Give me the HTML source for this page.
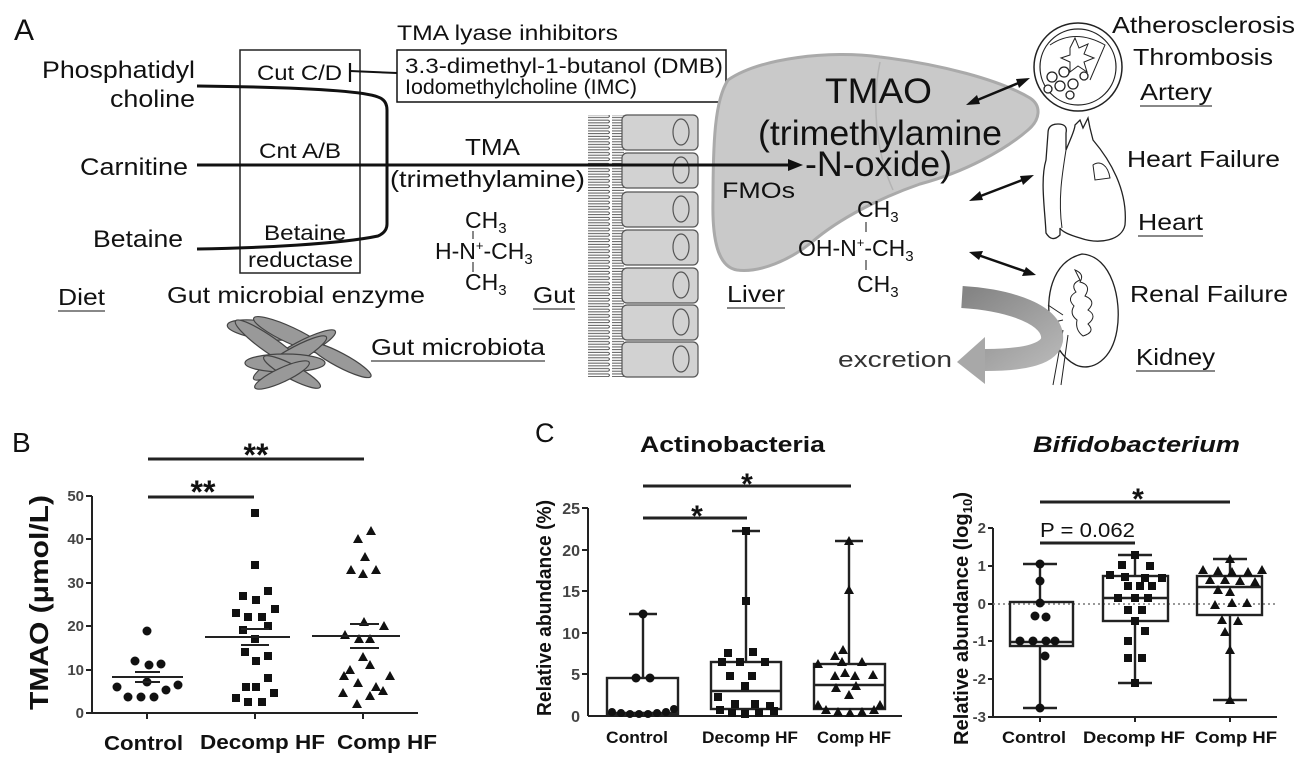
<!DOCTYPE html>
<html><head><meta charset="utf-8"><style>
html,body{margin:0;padding:0;background:#fff;}
svg{display:block;font-family:"Liberation Sans",Arial,sans-serif;}
</style></head><body>
<svg width="1310" height="764" viewBox="0 0 1310 764" xmlns="http://www.w3.org/2000/svg">
<defs>
<pattern id="villi" x="0" y="0" width="34" height="5.4" patternUnits="userSpaceOnUse">
<path d="M0 1.3 H30 Q33 2.7 30 4.1 H0" fill="none" stroke="#555" stroke-width="1"/>
</pattern>
<linearGradient id="exg" x1="0" y1="0" x2="1" y2="1"><stop offset="0" stop-color="#858585"/><stop offset="1" stop-color="#b5b5b5"/></linearGradient>
</defs>
<!-- PANEL A -->
<text x="14" y="40" font-size="30" fill="#111">A</text>
<g font-size="24" fill="#111" lengthAdjust="spacingAndGlyphs">
<text x="42" y="78" textLength="153" lengthAdjust="spacingAndGlyphs">Phosphatidyl</text>
<text x="110" y="107" textLength="85" lengthAdjust="spacingAndGlyphs">choline</text>
<text x="80" y="175" textLength="108" lengthAdjust="spacingAndGlyphs">Carnitine</text>
<text x="93" y="247" textLength="90" lengthAdjust="spacingAndGlyphs">Betaine</text>
</g>
<rect x="240" y="50" width="120" height="223" fill="none" stroke="#222" stroke-width="1.5"/>
<g font-size="21" fill="#111">
<text x="257" y="80" textLength="85" lengthAdjust="spacingAndGlyphs">Cut C/D</text>
<text x="259" y="158" textLength="82" lengthAdjust="spacingAndGlyphs">Cnt A/B</text>
<text x="264" y="240" textLength="82" lengthAdjust="spacingAndGlyphs">Betaine</text>
<text x="248" y="267" textLength="105" lengthAdjust="spacingAndGlyphs">reductase</text>
</g>
<path d="M197 86 C 280 87, 360 90, 378 97 Q 387 100 387 110 L 387 224 Q 387 232 378 236 C 340 244, 260 248, 197 249" fill="none" stroke="#111" stroke-width="3"/>
<line x1="350" y1="63" x2="350" y2="82" stroke="#111" stroke-width="2.2"/>
<line x1="350" y1="71" x2="397" y2="73" stroke="#111" stroke-width="2"/>
<rect x="397" y="50" width="329" height="52" fill="#fff" stroke="#111" stroke-width="1.5"/>
<text x="397" y="40" font-size="21" fill="#111" textLength="221" lengthAdjust="spacingAndGlyphs">TMA lyase inhibitors</text>
<text x="405" y="73" font-size="21" fill="#111" textLength="318" lengthAdjust="spacingAndGlyphs">3.3-dimethyl-1-butanol (DMB)</text>
<text x="405" y="94" font-size="21" fill="#111" textLength="232" lengthAdjust="spacingAndGlyphs">Iodomethylcholine (IMC)</text>
<text x="465" y="155" font-size="23" fill="#111" textLength="55" lengthAdjust="spacingAndGlyphs">TMA</text>
<text x="390" y="187" font-size="23" fill="#111" textLength="195" lengthAdjust="spacingAndGlyphs">(trimethylamine)</text>
<g font-size="23" fill="#111">
<text x="465" y="228">CH<tspan font-size="15" dy="5">3</tspan></text>
<text x="435" y="259">H-N<tspan font-size="13" dy="-9">+</tspan><tspan dy="9">-CH</tspan><tspan font-size="15" dy="5">3</tspan></text>
<text x="465" y="290">CH<tspan font-size="15" dy="5">3</tspan></text>
<line x1="473" y1="231" x2="473" y2="239" stroke="#111"/>
<line x1="473" y1="262" x2="473" y2="272" stroke="#111"/>
</g>
<g font-size="23" fill="#111">
<text x="58" y="305" textLength="47" lengthAdjust="spacingAndGlyphs">Diet</text><line x1="58" y1="311" x2="105" y2="311" stroke="#111"/>
<text x="167" y="303" textLength="258" lengthAdjust="spacingAndGlyphs">Gut microbial enzyme</text>
<text x="533" y="303" textLength="42" lengthAdjust="spacingAndGlyphs">Gut</text><line x1="533" y1="309" x2="575" y2="309" stroke="#111"/>
<text x="371" y="355" textLength="174" lengthAdjust="spacingAndGlyphs">Gut microbiota</text><line x1="371" y1="361" x2="545" y2="361" stroke="#111"/>
</g>
<!-- microbiota -->
<g fill="#999" stroke="#444" stroke-width="1.2">
<ellipse cx="262" cy="330" rx="35" ry="9" transform="rotate(8 262 330)"/>
<ellipse cx="290" cy="335" rx="40" ry="8" transform="rotate(25 290 335)"/>
<ellipse cx="300" cy="350" rx="40" ry="8" transform="rotate(-28 300 350)"/>
<ellipse cx="270" cy="345" rx="42" ry="8" transform="rotate(35 270 345)"/>
<ellipse cx="340" cy="360" rx="35" ry="7" transform="rotate(28 340 360)"/>
<ellipse cx="290" cy="358" rx="42" ry="8" transform="rotate(-30 290 358)"/>
<ellipse cx="285" cy="363" rx="40" ry="9"/>
<ellipse cx="292" cy="372" rx="32" ry="7" transform="rotate(28 292 372)"/>
<ellipse cx="282" cy="375" rx="30" ry="7" transform="rotate(-25 282 375)"/>
</g>
<!-- gut cells -->
<rect x="588" y="115" width="36" height="262" fill="url(#villi)"/>
<g fill="#d2d2d2" stroke="#555" stroke-width="1.2">
<rect x="622" y="115" width="76" height="35" rx="5"/>
<rect x="622" y="153" width="76" height="35" rx="5"/>
<rect x="622" y="192" width="76" height="35" rx="5"/>
<rect x="622" y="230" width="76" height="35" rx="5"/>
<rect x="622" y="268" width="76" height="35" rx="5"/>
<rect x="622" y="305" width="76" height="35" rx="5"/>
<rect x="622" y="342" width="76" height="35" rx="5"/>
</g>
<g fill="none" stroke="#555" stroke-width="1.2">
<ellipse cx="681" cy="132" rx="8" ry="13"/><ellipse cx="681" cy="170" rx="8" ry="13"/>
<ellipse cx="681" cy="209" rx="8" ry="13"/><ellipse cx="681" cy="247" rx="8" ry="13"/>
<ellipse cx="681" cy="285" rx="8" ry="13"/><ellipse cx="681" cy="322" rx="8" ry="13"/>
<ellipse cx="681" cy="359" rx="8" ry="13"/>
</g>
<!-- liver -->
<path d="M728 80 C 760 58, 830 50, 880 57 C 940 64, 1000 80, 1030 98 C 1042 106, 1040 120, 1028 130 C 1005 150, 965 172, 920 184 C 880 198, 840 218, 812 242 C 790 260, 760 273, 737 270 C 718 267, 712 240, 713 200 C 713 140, 715 100, 728 80 Z" fill="#c9c9c9" stroke="#aaa" stroke-width="3"/>
<path d="M880 62 C 872 100, 875 150, 893 190" fill="none" stroke="#b3b3b3" stroke-width="1.5"/>
<line x1="197" y1="165" x2="790" y2="165" stroke="#111" stroke-width="3"/>
<polygon points="803,165 788,159 788,171" fill="#111"/>
<g fill="#111">
<text x="825" y="103" font-size="35" textLength="107" lengthAdjust="spacingAndGlyphs">TMAO</text>
<text x="758" y="145" font-size="35" textLength="244" lengthAdjust="spacingAndGlyphs">(trimethylamine</text>
<text x="805" y="176" font-size="35" textLength="147" lengthAdjust="spacingAndGlyphs">-N-oxide)</text>
</g>
<text x="722" y="198" font-size="22" fill="#111" textLength="73" lengthAdjust="spacingAndGlyphs">FMOs</text>
<text x="727" y="302" font-size="23" fill="#111" textLength="58" lengthAdjust="spacingAndGlyphs">Liver</text><line x1="727" y1="308" x2="785" y2="308" stroke="#111"/>
<g font-size="23" fill="#111">
<text x="857" y="217">CH<tspan font-size="15" dy="5">3</tspan></text>
<text x="798" y="256">OH-N<tspan font-size="13" dy="-9">+</tspan><tspan dy="9">-CH</tspan><tspan font-size="15" dy="5">3</tspan></text>
<text x="857" y="292">CH<tspan font-size="15" dy="5">3</tspan></text>
<line x1="866" y1="222" x2="866" y2="232" stroke="#111"/>
<line x1="866" y1="260" x2="866" y2="270" stroke="#111"/>
</g>
<!-- double arrows -->
<g stroke="#111" stroke-width="2.5">
<line x1="975" y1="101" x2="1021" y2="82"/>
<line x1="978" y1="197" x2="1025" y2="179"/>
<line x1="978" y1="255" x2="1027" y2="272"/>
</g>
<g fill="#111">
<polygon points="966,105 977,95 980,104"/><polygon points="1030,78 1019,88 1016,79"/>
<polygon points="969,201 980,191 983,200"/><polygon points="1034,175 1023,185 1020,176"/>
<polygon points="969,252 983,251 979,260"/><polygon points="1036,275 1022,276 1026,267"/>
</g>
<!-- artery -->
<ellipse cx="1078" cy="67" rx="44" ry="44" fill="#fff" stroke="#222" stroke-width="1.5"/>
<ellipse cx="1078" cy="67" rx="38" ry="38" fill="none" stroke="#222" stroke-width="1.2"/>
<path d="M1050 45 Q 1075 28 1105 45 L 1090 80" fill="none" stroke="#222"/>
<polygon points="1070,48 1075,38 1079,48 1088,44 1084,54 1094,58 1084,62 1087,72 1078,66 1070,72 1070,62 1061,58 1070,55" fill="#fff" stroke="#222"/>
<g fill="#fff" stroke="#222" stroke-width="1.3">
<circle cx="1052" cy="77" r="5"/><circle cx="1064" cy="72" r="5"/><circle cx="1060" cy="86" r="5"/><circle cx="1073" cy="84" r="5"/><circle cx="1084" cy="76" r="4"/><circle cx="1048" cy="89" r="4"/><circle cx="1070" cy="95" r="4"/>
</g>
<!-- heart -->
<path d="M1048 133 Q 1048 124 1058 124 Q 1068 124 1066 133 L 1066 150 C 1070 140, 1075 130, 1075 125 L 1080 120 L 1083 128 L 1088 118 L 1090 128 L 1093 140 C 1110 160, 1128 190, 1125 225 C 1122 240, 1100 245, 1080 238 C 1070 235, 1062 232, 1060 228 L 1060 235 Q 1052 243 1046 233 C 1045 210, 1040 180, 1046 160 Z" fill="#fff" stroke="#222" stroke-width="1.3"/>
<path d="M1066 150 C 1062 175, 1058 200, 1062 228" fill="none" stroke="#222"/>
<path d="M1093 165 C 1100 160, 1108 165, 1110 178 L 1095 180 Z" fill="none" stroke="#222"/>
<!-- kidney -->
<path d="M1082 254 C 1112 256, 1122 300, 1117 330 C 1112 360, 1092 372, 1076 365 C 1062 358, 1052 342, 1050 322 C 1046 300, 1050 262, 1082 254 Z" fill="#fff" stroke="#222" stroke-width="1.3"/>
<path d="M1075 270 q10 4 5 12 q12 3 5 14 q12 5 3 14 q10 6 0 14 q8 8 -5 12 q-8 -6 -6 -16 q-8 -6 -3 -14 q-8 -8 2 -14 q-6 -8 4 -12 z" fill="none" stroke="#222"/>
<path d="M1063 315 L 1048 305 M1063 320 L 1050 323 M1063 330 L 1053 385 M1068 335 L 1061 385" fill="none" stroke="#222"/>
<!-- excretion arrow -->
<path d="M962 297 C 1010 300, 1055 315, 1052 340 Q 1048 360, 985 360" fill="none" stroke="url(#exg)" stroke-width="22"/>
<polygon points="985,337 957,362 985,384" fill="#a8a8a8"/>
<text x="838" y="367" font-size="22" fill="#333" textLength="114" lengthAdjust="spacingAndGlyphs">excretion</text>
<g font-size="23" fill="#111">
<text x="1112" y="33" textLength="183" lengthAdjust="spacingAndGlyphs">Atherosclerosis</text>
<text x="1133" y="65" textLength="140" lengthAdjust="spacingAndGlyphs">Thrombosis</text>
<text x="1140" y="100" textLength="72" lengthAdjust="spacingAndGlyphs">Artery</text><line x1="1140" y1="106" x2="1212" y2="106" stroke="#111"/>
<text x="1127" y="167" textLength="153" lengthAdjust="spacingAndGlyphs">Heart Failure</text>
<text x="1138" y="230" textLength="65" lengthAdjust="spacingAndGlyphs">Heart</text><line x1="1138" y1="236" x2="1203" y2="236" stroke="#111"/>
<text x="1130" y="302" textLength="158" lengthAdjust="spacingAndGlyphs">Renal Failure</text>
<text x="1136" y="365" textLength="79" lengthAdjust="spacingAndGlyphs">Kidney</text><line x1="1136" y1="371" x2="1215" y2="371" stroke="#111"/>
</g>

<!-- PANEL B -->
<text x="12" y="452" font-size="28" fill="#111">B</text>
<g stroke="#222" stroke-width="2">
<line x1="92" y1="496" x2="92" y2="713"/><line x1="92" y1="713" x2="418" y2="713"/>
<line x1="86" y1="496" x2="92" y2="496"/><line x1="86" y1="539" x2="92" y2="539"/><line x1="86" y1="583" x2="92" y2="583"/><line x1="86" y1="626" x2="92" y2="626"/><line x1="86" y1="670" x2="92" y2="670"/><line x1="86" y1="713" x2="92" y2="713"/>
<line x1="147" y1="713" x2="147" y2="719"/><line x1="255" y1="713" x2="255" y2="719"/><line x1="363" y1="713" x2="363" y2="719"/>
<line x1="148" y1="497" x2="254" y2="497" stroke-width="3"/><line x1="148" y1="459" x2="364" y2="459" stroke-width="3"/>
</g>
<g font-size="15" font-weight="bold" fill="#444" text-anchor="end">
<text x="84" y="501">50</text><text x="84" y="544">40</text><text x="84" y="588">30</text><text x="84" y="631">20</text><text x="84" y="675">10</text><text x="84" y="718">0</text>
</g>
<text transform="translate(48 710) rotate(-90)" font-size="26" font-weight="bold" fill="#111" textLength="215" lengthAdjust="spacingAndGlyphs">TMAO (μmol/L)</text>
<g font-size="20" font-weight="bold" fill="#111">
<text x="104" y="750" textLength="79" lengthAdjust="spacingAndGlyphs">Control</text><text x="200" y="749" textLength="125" lengthAdjust="spacingAndGlyphs">Decomp HF</text><text x="337" y="749" textLength="100" lengthAdjust="spacingAndGlyphs">Comp HF</text>
</g>
<g font-size="32" font-weight="bold" fill="#111" text-anchor="middle">
<text x="203" y="503">**</text><text x="256" y="466">**</text>
</g>
<g fill="#111">
<circle cx="147" cy="631" r="4.5"/><circle cx="135" cy="661" r="4.5"/><circle cx="149" cy="665" r="4.5"/><circle cx="161" cy="664" r="4.5"/><circle cx="147" cy="682" r="4.5"/><circle cx="117" cy="687" r="4.5"/><circle cx="178" cy="685" r="4.5"/><circle cx="166" cy="690" r="4.5"/><circle cx="128" cy="697" r="4.5"/><circle cx="141" cy="697" r="4.5"/><circle cx="154" cy="697" r="4.5"/>
</g>
<g fill="#111">
<rect x="251" y="509" width="8" height="8"/><rect x="251" y="561" width="8" height="8"/><rect x="264" y="587" width="8" height="8"/><rect x="239" y="592" width="8" height="8"/><rect x="252" y="596" width="8" height="8"/><rect x="271" y="605" width="8" height="8"/><rect x="232" y="609" width="8" height="8"/><rect x="244" y="613" width="8" height="8"/><rect x="258" y="613" width="8" height="8"/><rect x="264" y="622" width="8" height="8"/><rect x="239" y="626" width="8" height="8"/><rect x="251" y="635" width="8" height="8"/><rect x="241" y="648" width="8" height="8"/><rect x="264" y="652" width="8" height="8"/><rect x="252" y="657" width="8" height="8"/><rect x="264" y="674" width="8" height="8"/><rect x="242" y="683" width="8" height="8"/><rect x="252" y="683" width="8" height="8"/><rect x="270" y="689" width="8" height="8"/><rect x="232" y="694" width="8" height="8"/><rect x="244" y="698" width="8" height="8"/><rect x="258" y="698" width="8" height="8"/>
</g>
<g fill="#111">
<path d="M371 526 l5 9 h-10z"/><path d="M358 534 l5 9 h-10z"/><path d="M365 552 l5 9 h-10z"/><path d="M351 565 l5 9 h-10z"/><path d="M376 565 l5 9 h-10z"/><path d="M363 569 l5 9 h-10z"/><path d="M364 617 l5 9 h-10z"/><path d="M384 621 l5 9 h-10z"/><path d="M345 630 l5 9 h-10z"/><path d="M359 634 l5 9 h-10z"/><path d="M370 634 l5 9 h-10z"/><path d="M363 652 l5 9 h-10z"/><path d="M370 660 l5 9 h-10z"/><path d="M350 665 l5 9 h-10z"/><path d="M344 671 l5 9 h-10z"/><path d="M390 671 l5 9 h-10z"/><path d="M358 678 l5 9 h-10z"/><path d="M376 682 l5 9 h-10z"/><path d="M383 686 l5 9 h-10z"/><path d="M343 688 l5 9 h-10z"/><path d="M370 691 l5 9 h-10z"/><path d="M357 699 l5 9 h-10z"/>
</g>
<g stroke="#222" stroke-width="2">
<line x1="112" y1="677" x2="183" y2="677"/><line x1="135" y1="672" x2="160" y2="672"/><line x1="135" y1="682" x2="160" y2="682"/>
<line x1="205" y1="637" x2="290" y2="637"/><line x1="241" y1="629" x2="269" y2="629"/><line x1="241" y1="645" x2="269" y2="645"/>
<line x1="312" y1="636" x2="400" y2="636"/><line x1="350" y1="624" x2="379" y2="624"/><line x1="350" y1="648" x2="379" y2="648"/>
</g>

<!-- PANEL C -->
<text x="535" y="442" font-size="27" fill="#111">C</text>
<text x="640" y="452" font-size="22" font-weight="bold" fill="#111" textLength="185" lengthAdjust="spacingAndGlyphs">Actinobacteria</text>
<text x="1033" y="452" font-size="22" font-weight="bold" font-style="italic" fill="#111" textLength="207" lengthAdjust="spacingAndGlyphs">Bifidobacterium</text>
<!-- left plot -->
<g stroke="#222" stroke-width="2">
<line x1="588" y1="508" x2="588" y2="716"/><line x1="588" y1="716" x2="902" y2="716"/>
<line x1="582" y1="508" x2="588" y2="508"/><line x1="582" y1="550" x2="588" y2="550"/><line x1="582" y1="591" x2="588" y2="591"/><line x1="582" y1="633" x2="588" y2="633"/><line x1="582" y1="674" x2="588" y2="674"/>
<line x1="643" y1="518" x2="747" y2="518" stroke-width="3"/><line x1="643" y1="486" x2="851" y2="486" stroke-width="3"/>
</g>
<g font-size="16" font-weight="bold" fill="#444" text-anchor="end">
<text x="580" y="514">25</text><text x="580" y="556">20</text><text x="580" y="597">15</text><text x="580" y="639">10</text><text x="580" y="680">5</text><text x="580" y="722">0</text>
</g>
<text transform="translate(551 716) rotate(-90)" font-size="20" font-weight="bold" fill="#111" textLength="216" lengthAdjust="spacingAndGlyphs">Relative abundance (%)</text>
<g font-size="17" font-weight="bold" fill="#111">
<text x="606" y="743" textLength="62" lengthAdjust="spacingAndGlyphs">Control</text><text x="702" y="743" textLength="96" lengthAdjust="spacingAndGlyphs">Decomp HF</text><text x="817" y="743" textLength="74" lengthAdjust="spacingAndGlyphs">Comp HF</text>
</g>
<g font-size="30" font-weight="bold" fill="#111" text-anchor="middle"><text x="697" y="526">*</text><text x="747" y="494">*</text></g>
<g fill="none" stroke="#222" stroke-width="2.4">
<rect x="607" y="678" width="71" height="37"/><line x1="643" y1="678" x2="643" y2="614"/><line x1="629" y1="614" x2="657" y2="614"/><line x1="607" y1="713" x2="678" y2="713"/>
<rect x="711" y="662" width="70" height="47"/><line x1="746" y1="662" x2="746" y2="531"/><line x1="732" y1="531" x2="760" y2="531"/><line x1="711" y1="691" x2="781" y2="691"/>
<rect x="814" y="664" width="71" height="45"/><line x1="849" y1="664" x2="849" y2="541"/><line x1="835" y1="541" x2="863" y2="541"/><line x1="814" y1="685" x2="885" y2="685"/>
</g>
<g fill="#111">
<circle cx="643" cy="614" r="4.5"/><circle cx="636" cy="678" r="4.5"/><circle cx="650" cy="678" r="4.5"/>
<circle cx="612" cy="712" r="4"/><circle cx="621" cy="713" r="4"/><circle cx="630" cy="714" r="4"/><circle cx="639" cy="714" r="4"/><circle cx="648" cy="714" r="4"/><circle cx="657" cy="713" r="4"/><circle cx="666" cy="712" r="4"/><circle cx="674" cy="709" r="4"/>
<rect x="742" y="527" width="8" height="8"/><rect x="742" y="597" width="8" height="8"/><rect x="724" y="649" width="8" height="8"/><rect x="749" y="648" width="8" height="8"/><rect x="718" y="658" width="8" height="8"/><rect x="736" y="658" width="8" height="8"/><rect x="761" y="658" width="8" height="8"/><rect x="726" y="672" width="8" height="8"/><rect x="748" y="672" width="8" height="8"/><rect x="741" y="682" width="8" height="8"/><rect x="714" y="693" width="8" height="8"/><rect x="731" y="700" width="8" height="8"/><rect x="751" y="700" width="8" height="8"/><rect x="766" y="702" width="8" height="8"/><rect x="716" y="706" width="8" height="8"/><rect x="728" y="709" width="8" height="8"/><rect x="741" y="710" width="8" height="8"/><rect x="755" y="709" width="8" height="8"/><rect x="770" y="707" width="8" height="8"/>
<path d="M849 536 l5 9 h-10z"/><path d="M849 585 l5 9 h-10z"/><path d="M843 645 l5 9 h-10z"/><path d="M835 651 l5 9 h-10z"/><path d="M818 659 l5 9 h-10z"/><path d="M842 657 l5 9 h-10z"/><path d="M862 657 l5 9 h-10z"/><path d="M845 668 l5 9 h-10z"/><path d="M835 671 l5 9 h-10z"/><path d="M855 671 l5 9 h-10z"/><path d="M873 670 l5 9 h-10z"/><path d="M836 683 l5 9 h-10z"/><path d="M856 681 l5 9 h-10z"/><path d="M849 690 l5 9 h-10z"/><path d="M818 700 l5 9 h-10z"/><path d="M880 700 l5 9 h-10z"/><path d="M826 705 l5 9 h-10z"/><path d="M838 707 l5 9 h-10z"/><path d="M850 708 l5 9 h-10z"/><path d="M862 707 l5 9 h-10z"/><path d="M874 705 l5 9 h-10z"/>
</g>
<!-- right plot -->
<g stroke="#222" stroke-width="2">
<line x1="993" y1="528" x2="993" y2="717"/><line x1="993" y1="717" x2="1277" y2="717"/>
<line x1="988" y1="528" x2="993" y2="528"/><line x1="988" y1="566" x2="993" y2="566"/><line x1="988" y1="604" x2="993" y2="604"/><line x1="988" y1="641" x2="993" y2="641"/><line x1="988" y1="679" x2="993" y2="679"/><line x1="988" y1="717" x2="993" y2="717"/>
<line x1="1040" y1="717" x2="1040" y2="722"/><line x1="1135" y1="717" x2="1135" y2="722"/><line x1="1230" y1="717" x2="1230" y2="722"/>
<line x1="1040" y1="543" x2="1135" y2="543" stroke-width="3"/><line x1="1040" y1="502" x2="1230" y2="502" stroke-width="3"/>
</g>
<line x1="993" y1="604" x2="1277" y2="604" stroke="#777" stroke-width="1.5" stroke-dasharray="2,3"/>
<g font-size="15" font-weight="bold" fill="#444" text-anchor="end">
<text x="986" y="533">2</text><text x="986" y="571">1</text><text x="986" y="609">0</text><text x="986" y="646">-1</text><text x="986" y="684">-2</text><text x="986" y="722">-3</text>
</g>
<text transform="translate(968 745) rotate(-90)" font-size="20" font-weight="bold" fill="#111" textLength="253" lengthAdjust="spacingAndGlyphs">Relative abundance (log<tspan font-size="13" dy="4">10</tspan><tspan dy="-4">)</tspan></text>
<g font-size="17" font-weight="bold" fill="#111">
<text x="1002" y="743" textLength="64" lengthAdjust="spacingAndGlyphs">Control</text><text x="1083" y="743" textLength="102" lengthAdjust="spacingAndGlyphs">Decomp HF</text><text x="1195" y="743" textLength="82" lengthAdjust="spacingAndGlyphs">Comp HF</text>
</g>
<text x="1040" y="537" font-size="20" fill="#111" textLength="95" lengthAdjust="spacingAndGlyphs">P = 0.062</text>
<text x="1138" y="509" font-size="30" font-weight="bold" text-anchor="middle" fill="#111">*</text>
<g fill="none" stroke="#222" stroke-width="2.4">
<rect x="1010" y="602" width="63" height="44"/><line x1="1040" y1="602" x2="1040" y2="564"/><line x1="1023" y1="564" x2="1057" y2="564"/><line x1="1040" y1="646" x2="1040" y2="708"/><line x1="1023" y1="708" x2="1057" y2="708"/><line x1="1010" y1="642" x2="1073" y2="642"/>
<rect x="1103" y="576" width="65" height="45"/><line x1="1135" y1="576" x2="1135" y2="555"/><line x1="1118" y1="555" x2="1152" y2="555"/><line x1="1135" y1="621" x2="1135" y2="683"/><line x1="1118" y1="683" x2="1152" y2="683"/><line x1="1103" y1="598" x2="1168" y2="598"/>
<rect x="1197" y="576" width="65" height="39"/><line x1="1230" y1="576" x2="1230" y2="559"/><line x1="1213" y1="559" x2="1247" y2="559"/><line x1="1230" y1="615" x2="1230" y2="700"/><line x1="1213" y1="700" x2="1247" y2="700"/><line x1="1197" y1="587" x2="1262" y2="587"/>
</g>
<g fill="#111">
<circle cx="1040" cy="564" r="4.5"/><circle cx="1040" cy="581" r="4.5"/><circle cx="1040" cy="603" r="4.5"/><circle cx="1035" cy="616" r="4.5"/><circle cx="1046" cy="617" r="4.5"/><circle cx="1020" cy="641" r="4.5"/><circle cx="1033" cy="641" r="4.5"/><circle cx="1046" cy="641" r="4.5"/><circle cx="1055" cy="641" r="4.5"/><circle cx="1045" cy="656" r="4.5"/><circle cx="1040" cy="708" r="4.5"/>
<rect x="1131" y="551" width="8" height="8"/><rect x="1118" y="561" width="8" height="8"/><rect x="1146" y="562" width="8" height="8"/><rect x="1106" y="571" width="8" height="8"/><rect x="1121" y="573" width="8" height="8"/><rect x="1141" y="574" width="8" height="8"/><rect x="1158" y="574" width="8" height="8"/><rect x="1124" y="582" width="8" height="8"/><rect x="1136" y="582" width="8" height="8"/><rect x="1148" y="582" width="8" height="8"/><rect x="1114" y="594" width="8" height="8"/><rect x="1131" y="594" width="8" height="8"/><rect x="1144" y="594" width="8" height="8"/><rect x="1124" y="606" width="8" height="8"/><rect x="1138" y="606" width="8" height="8"/><rect x="1131" y="617" width="8" height="8"/><rect x="1141" y="627" width="8" height="8"/><rect x="1124" y="637" width="8" height="8"/><rect x="1124" y="654" width="8" height="8"/><rect x="1138" y="654" width="8" height="8"/><rect x="1131" y="679" width="8" height="8"/>
<path d="M1230 554 l5 9 h-10z"/><path d="M1203 565 l5 9 h-10z"/><path d="M1218 566 l5 9 h-10z"/><path d="M1232 567 l5 9 h-10z"/><path d="M1248 567 l5 9 h-10z"/><path d="M1262 565 l5 9 h-10z"/><path d="M1210 575 l5 9 h-10z"/><path d="M1225 575 l5 9 h-10z"/><path d="M1240 576 l5 9 h-10z"/><path d="M1255 577 l5 9 h-10z"/><path d="M1218 585 l5 9 h-10z"/><path d="M1230 587 l5 9 h-10z"/><path d="M1232 598 l5 9 h-10z"/><path d="M1247 598 l5 9 h-10z"/><path d="M1215 600 l5 9 h-10z"/><path d="M1222 615 l5 9 h-10z"/><path d="M1238 616 l5 9 h-10z"/><path d="M1225 627 l5 9 h-10z"/><path d="M1230 645 l5 9 h-10z"/><path d="M1230 695 l5 9 h-10z"/>
</g>
</svg>
</body></html>
